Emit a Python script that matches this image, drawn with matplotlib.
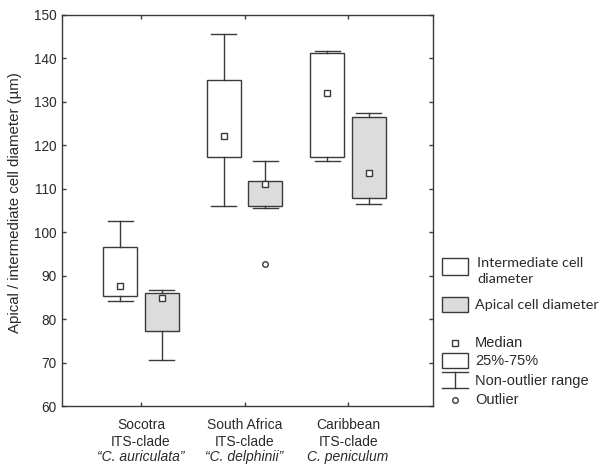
import matplotlib
matplotlib.use("Agg")
import matplotlib.pyplot as plt
from matplotlib.patches import Rectangle
from matplotlib.lines import Line2D

plt.rcParams['font.family'] = ['Liberation Sans', 'DejaVu Sans']

# values (µm)
groups = ['Socotra', 'South Africa', 'Caribbean']
clade = ['ITS-clade', 'ITS-clade', 'ITS-clade']
species = ['\u201cC. auriculata\u201d', '\u201cC. delphinii\u201d', 'C. peniculum']

inter_med = [87.7, 122.1, 132.0]
inter_q1 = [85.3, 117.2, 117.2]
inter_q3 = [96.6, 135.0, 141.3]
inter_lo = [84.1, 106.1, 116.5]
inter_hi = [102.6, 145.7, 141.8]
inter_out = [[], [], []]

apic_med = [84.8, 111.0, 113.7]
apic_q1 = [77.3, 106.1, 107.9]
apic_q3 = [85.9, 111.9, 126.5]
apic_lo = [70.6, 105.5, 106.5]
apic_hi = [86.7, 116.5, 127.4]
apic_out = [[], [92.6], []]

edge = '#3a3a3a'
gray = '#dcdcdc'
txtc = '#2a2a2a'


def stats(med, q1, q3, lo, hi, out):
    return [dict(med=m, q1=a, q3=b, whislo=l, whishi=h, fliers=f)
            for m, a, b, l, h, f in zip(med, q1, q3, lo, hi, out)]


fig = plt.figure(figsize=(6.03, 4.65), dpi=100)
ax = fig.add_axes([62 / 603, 1 - 406 / 465, (433 - 62) / 603, (406 - 15) / 465])

pos = list(range(len(groups)))
off = 0.2
w = 0.33
common = dict(widths=w, capwidths=0.24, patch_artist=True,
              medianprops=dict(linewidth=0),
              whiskerprops=dict(color=edge, linewidth=1),
              capprops=dict(color=edge, linewidth=1),
              flierprops=dict(marker='o', markersize=4, markerfacecolor='white',
                              markeredgecolor=edge, markeredgewidth=1))

b1 = ax.bxp(stats(inter_med, inter_q1, inter_q3, inter_lo, inter_hi, inter_out),
            positions=[p - off for p in pos], **common)
b2 = ax.bxp(stats(apic_med, apic_q1, apic_q3, apic_lo, apic_hi, apic_out),
            positions=[p + off for p in pos], **common)
for b in b1['boxes']:
    b.set_facecolor('white')
    b.set_edgecolor(edge)
for b in b2['boxes']:
    b.set_facecolor(gray)
    b.set_edgecolor(edge)

ax.plot([p - off for p in pos], inter_med, 's', ms=5, mfc='white', mec=edge, mew=1, zorder=5)
ax.plot([p + off for p in pos], apic_med, 's', ms=5, mfc='white', mec=edge, mew=1, zorder=5)

ax.set_xlim(-0.763, 2.82)
ax.set_ylim(60, 150)
ax.set_yticks(range(60, 151, 10))
ax.set_xticks(pos)
ax.set_xticklabels([])
ax.tick_params(direction='in', top=True, right=True, length=3, width=1,
               color=edge, labelsize=9.8, labelcolor=txtc, pad=4)
ax.tick_params(axis='y', labelright=False)
for s in ax.spines.values():
    s.set_color(edge)
    s.set_linewidth(1)
ax.set_ylabel('Apical / intermediate cell diameter (\u00b5m)', fontsize=10.8, color=txtc)
ax.yaxis.set_label_coords(-0.107, 0.52)

for i in pos:
    for txt, dy, st in [(groups[i], 13.7, 'normal'), (clade[i], 25.7, 'normal'),
                        (species[i], 36.5, 'italic')]:
        ax.annotate(txt, xy=(i, 0), xycoords=ax.get_xaxis_transform(),
                    xytext=(0, -dy), textcoords='offset points',
                    ha='center', va='center', fontsize=10, style=st, color=txtc)

# legend drawn in pixel coordinates
lax = fig.add_axes([0, 0, 1, 1])
lax.set_xlim(0, 603)
lax.set_ylim(465, 0)
lax.axis('off')

lax.add_patch(Rectangle((442, 258), 26, 17, facecolor='white', edgecolor=edge, lw=1))
lax.text(477, 263, 'Intermediate cell', va='center', fontsize=10.4, family='Lato', color=txtc)
lax.text(477, 279, 'diameter', va='center', fontsize=10.4, family='Lato', color=txtc)
lax.add_patch(Rectangle((442, 297), 26, 15, facecolor=gray, edgecolor=edge, lw=1))
lax.text(475, 305, 'Apical cell diameter', va='center', fontsize=10.4, family='Lato', color=txtc)

lax.plot([455], [343], 's', ms=5, mfc='white', mec=edge, mew=1)
lax.text(475, 343, 'Median', va='center', fontsize=10.5, color=txtc)
lax.add_patch(Rectangle((442, 353), 26, 15, facecolor='white', edgecolor=edge, lw=1))
lax.text(475, 361, '25%-75%', va='center', fontsize=10.5, color=txtc)
lax.add_line(Line2D([442, 468], [372, 372], color=edge, lw=1))
lax.add_line(Line2D([455, 455], [372, 388], color=edge, lw=1))
lax.add_line(Line2D([442, 468], [388, 388], color=edge, lw=1))
lax.text(475, 381, 'Non-outlier range', va='center', fontsize=10.5, color=txtc)
lax.plot([455], [400], 'o', ms=4, mfc='white', mec=edge, mew=1)
lax.text(475, 400, 'Outlier', va='center', fontsize=10.5, color=txtc)

fig.savefig('out.png', dpi=100)
